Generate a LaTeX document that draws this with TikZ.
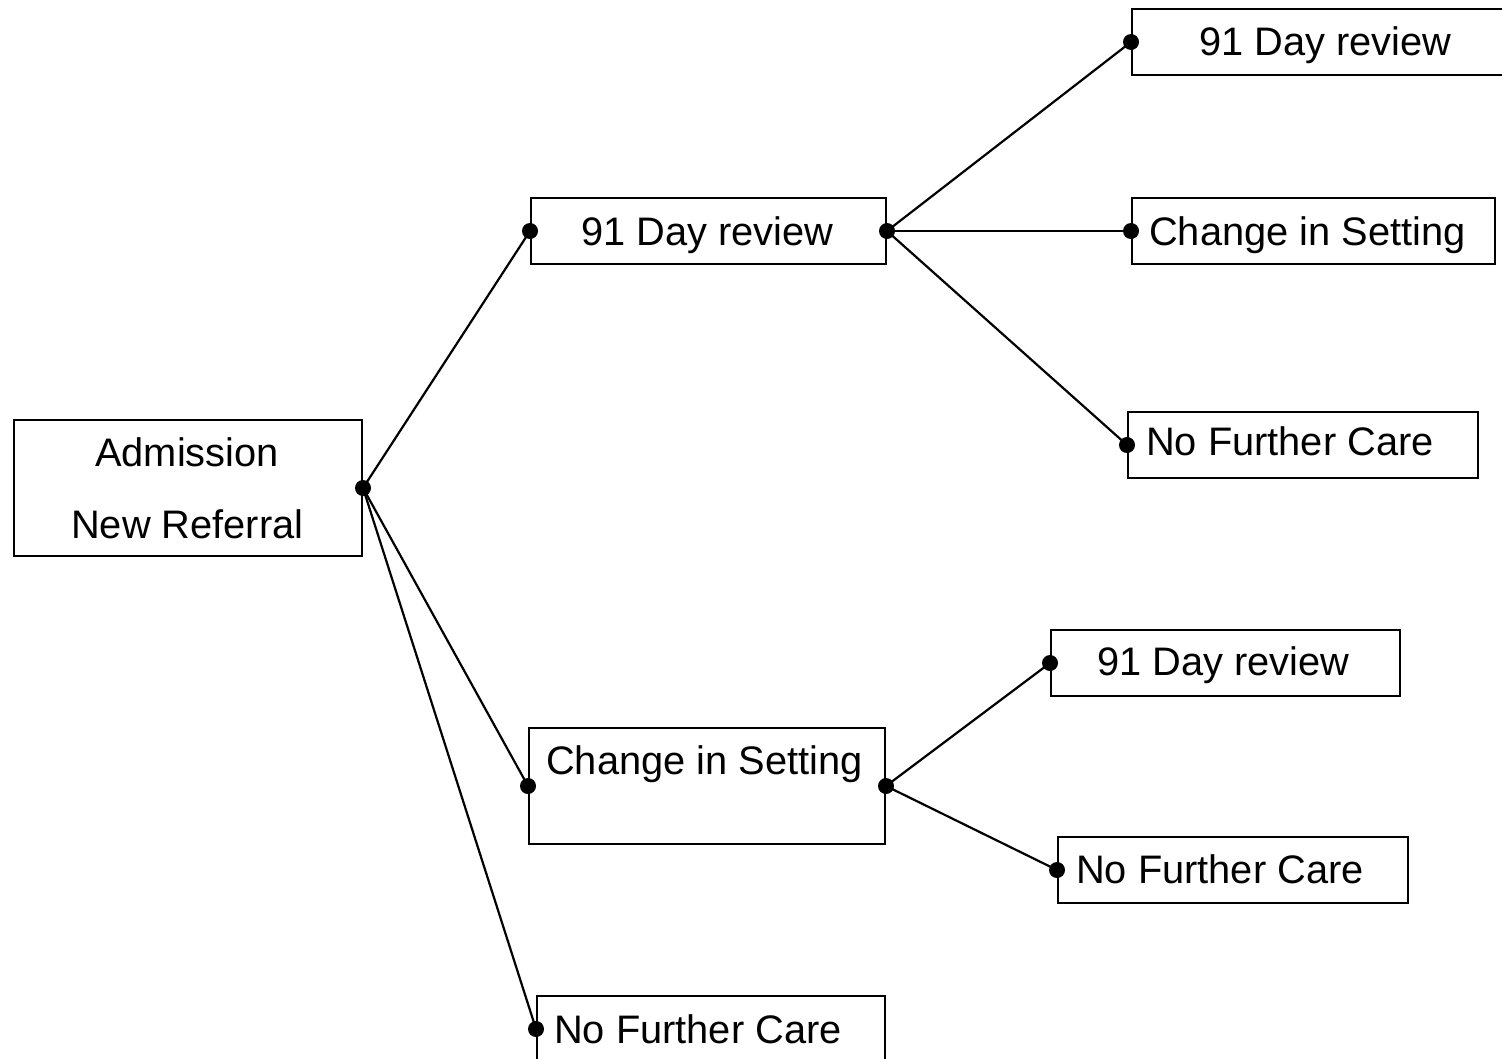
\documentclass[tikz,border=0pt]{standalone}
\usepackage{fontspec}
\setmainfont{Liberation Sans}
\begin{document}
\begin{tikzpicture}[x=1pt,y=-1pt,
  box/.style={draw=black,line width=2pt,rectangle,inner sep=0pt,anchor=north west},
  txt/.style={anchor=base west,inner sep=0pt,font=\fontsize{39.8}{44}\selectfont},
  conn/.style={draw=black,line width=2.2pt},
  dotmark/.style={fill=black,circle,inner sep=0pt,minimum size=16pt}]
\useasboundingbox (0,0) rectangle (1502,1058);
\clip (0,0) rectangle (1502,1058);
\fill[white] (0,0) rectangle (1502,1058);
% boxes
\node[box,minimum width=348pt,minimum height=136pt] (adm) at (13,419) {};
\node[box,minimum width=355pt,minimum height=66pt] (r1) at (530,197) {};
\node[box,minimum width=356pt,minimum height=116pt] (c1) at (528,727) {};
\node[box,minimum width=348pt,minimum height=66pt] (n1) at (536,995) {};
\node[box,minimum width=400pt,minimum height=66pt] (r2) at (1131,8) {};
\node[box,minimum width=363pt,minimum height=66pt] (c2) at (1131,197) {};
\node[box,minimum width=350pt,minimum height=66pt] (n2) at (1127,411) {};
\node[box,minimum width=349pt,minimum height=66pt] (r3) at (1050,629) {};
\node[box,minimum width=350pt,minimum height=66pt] (n3) at (1057,836) {};
% texts
\node[txt] (tadm1) at (95,466) {Admission};
\node[txt] (tadm2) at (71,538) {New Referral};
\node[txt] (tr1) at (581,245) {91 Day review};
\node[txt] (tc1) at (546,774) {Change in Setting};
\node[txt] (tn1) at (554,1043) {No Further Care};
\node[txt] (tr2) at (1199,55) {91 Day review};
\node[txt] (tc2) at (1149,245) {Change in Setting};
\node[txt] (tn2) at (1146,455) {No Further Care};
\node[txt] (tr3) at (1097,675) {91 Day review};
\node[txt] (tn3) at (1076,883) {No Further Care};
% connectors
\draw[conn] (adm.east) -- (r1.west);
\draw[conn] (adm.east) -- (c1.west);
\draw[conn] (adm.east) -- (n1.west);
\draw[conn] (r1.east) -- (r2.west);
\draw[conn] (r1.east) -- (c2.west);
\draw[conn] (r1.east) -- (n2.west);
\draw[conn] (c1.east) -- (r3.west);
\draw[conn] (c1.east) -- (n3.west);
% dots
\foreach \p in {adm.east,r1.west,r1.east,c1.west,c1.east,n1.west,r2.west,c2.west,n2.west,r3.west,n3.west}
  \node[dotmark] at (\p) {};
\end{tikzpicture}
\end{document}
